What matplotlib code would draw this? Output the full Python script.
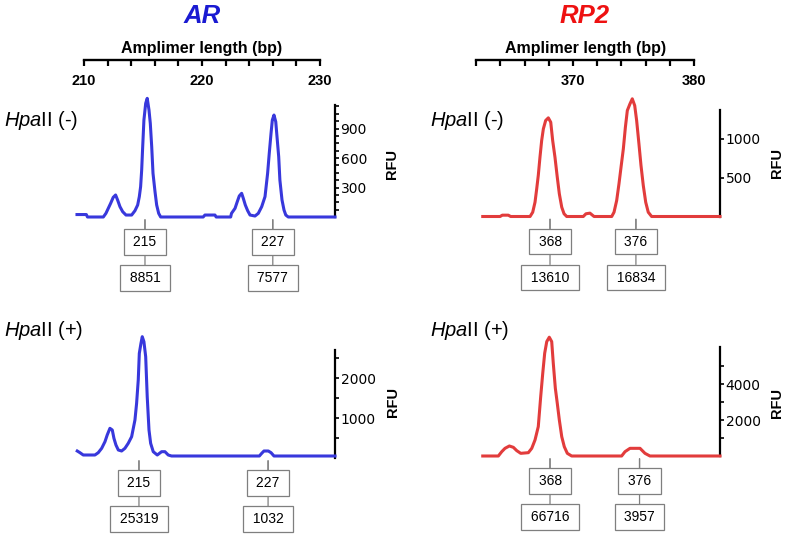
import matplotlib
matplotlib.use("Agg")
import matplotlib.pyplot as plt
from matplotlib.transforms import blended_transform_factory

plt.rcParams['font.family'] = ['Liberation Sans', 'DejaVu Sans']
plt.rcParams['mathtext.fontset'] = 'custom'
plt.rcParams['mathtext.it'] = 'Liberation Sans:italic'
plt.rcParams['mathtext.rm'] = 'Liberation Sans'

# ---- data (x = amplimer length in bp, y = RFU)
ar_neg_bp = [209.41, 210.2, 210.3, 211.64, 211.86, 212.06, 212.26, 212.48, 212.68, 212.85,
             213.05, 213.28, 213.56, 214.04, 214.32, 214.55, 214.69, 214.8, 214.89, 214.97,
             215.08, 215.23, 215.36, 215.51, 215.62, 215.74, 215.85, 216.02, 216.16, 216.33,
             216.5, 220.1, 220.25, 221.1, 221.2, 222.43, 222.5, 222.8, 222.99, 223.16,
             223.36, 223.5, 223.67, 223.87, 224.07, 224.49, 224.77, 225.06, 225.34, 225.56,
             225.7, 225.85, 225.96, 226.1, 226.25, 226.38, 226.5, 226.6, 226.78, 226.95,
             227.1, 227.31, 231.27]
ar_neg_rfu = [25, 25, 0, 0, 37, 88, 139, 200, 224, 173,
              105, 54, 20, 20, 64, 122, 207, 308, 478, 699,
              986, 1156, 1207, 1088, 953, 715, 444, 257, 122, 37,
              0, 0, 20, 20, 0, 0, 37, 88, 156, 214,
              241, 190, 122, 64, 20, 10, 37, 105, 207, 444,
              648, 851, 986, 1037, 969, 783, 613, 376, 173, 71,
              20, 0, 0]

ar_pos_bp = [209.43, 209.66, 209.94, 210.93, 211.21, 211.5, 211.78, 211.97, 212.2, 212.4,
             212.54, 212.71, 212.91, 213.19, 213.47, 213.75, 214.04, 214.32, 214.46, 214.6,
             214.69, 214.83, 214.94, 215.08, 215.23, 215.36, 215.51, 215.65, 215.87, 216.21,
             216.58, 216.86, 217.14, 217.42, 224.86, 225.06, 225.25, 225.62, 225.85, 226.1,
             231.27]
ar_pos_rfu = [175, 133, 75, 75, 133, 242, 408, 575, 742, 700,
              492, 325, 200, 175, 242, 367, 533, 950, 1367, 1950,
              2617, 2867, 3033, 2908, 2533, 1533, 700, 367, 158, 75,
              158, 158, 75, 50, 50, 117, 175, 175, 133, 50,
              50]

rp2_neg_bp = [362.54, 363.97, 364.16, 364.65, 364.85, 366.45, 366.67, 366.86, 367.0, 367.13,
              367.27, 367.41, 367.55, 367.74, 367.96, 368.16, 368.32, 368.51, 368.7, 368.87,
              369.07, 369.26, 369.48, 370.85, 371.07, 371.4, 371.74, 373.2, 373.39, 373.61,
              373.8, 373.97, 374.16, 374.33, 374.49, 374.71, 374.9, 375.1, 375.26, 375.45,
              375.62, 375.81, 376.01, 376.22, 376.5, 382.15]
rp2_neg_rfu = [0, 0, 17, 17, 0, 0, 55, 183, 355, 526,
               760, 974, 1124, 1231, 1265, 1209, 974, 760, 504, 291,
               119, 35, 0, 0, 35, 43, 0, 0, 55, 205,
               419, 632, 867, 1145, 1359, 1445, 1509, 1423, 1231, 932,
               654, 397, 183, 55, 0, 0]

rp2_pos_bp = [362.54, 363.83, 364.11, 364.38, 364.74, 365.07, 365.35, 365.68, 366.31, 366.59,
              366.86, 367.13, 367.33, 367.5, 367.66, 367.83, 368.04, 368.24, 368.37, 368.54,
              368.7, 368.87, 369.07, 369.28, 369.53, 369.89, 374.02, 374.3, 374.71, 375.54,
              375.95, 376.36, 382.15]
rp2_pos_rfu = [0, 0, 241, 426, 556, 482, 297, 148, 185, 426,
               889, 1630, 3297, 4600, 5712, 6355, 6600, 6355, 5155, 3764,
               2930, 2002, 1073, 517, 148, 0, 0, 241, 426, 426,
               148, 0, 0]

# peak calls: where the label hangs, size label, peak area
ar_neg_peak_x = [215.17, 226.0]
ar_pos_peak_x = [214.66, 225.6]
ar_sizes = ['215', '227']
ar_neg_areas = ['8851', '7577']
ar_pos_areas = ['25319', '1032']

rp2_neg_peak_x = [368.1, 375.2]
rp2_pos_peak_x = [368.1, 375.5]
rp2_sizes = ['368', '376']
rp2_neg_areas = ['13610', '16834']
rp2_pos_areas = ['66716', '3957']

# ruler (top axis) ticks
ar_ruler_ticks = [210, 212, 214, 216, 218, 220, 222, 224, 226, 228, 230]
ar_ruler_labels = ['210', '', '', '', '', '220', '', '', '', '', '230']
rp2_ruler_ticks = [362, 364, 366, 368, 370, 372, 374, 376, 378, 380]
rp2_ruler_labels = ['', '', '', '', '370', '', '', '', '', '380']

# RFU axis ticks
ar_neg_major = [300, 600, 900]
ar_neg_minor = [75, 150, 225, 375, 450, 525, 675, 750, 825, 975, 1050, 1125]
ar_pos_major = [1000, 2000]
ar_pos_minor = [500, 1500, 2500]
rp2_neg_major = [500, 1000]
rp2_neg_minor = []
rp2_pos_major = [2000, 4000]
rp2_pos_minor = [1000, 3000, 5000]

blue_trace = '#3838dc'
red_trace = '#e23c3c'
blue_title = '#1a1ad2'
red_title = '#ee1111'

W, H = 786, 536
fig = plt.figure(figsize=(W / 100, H / 100), dpi=100)


def add_px_axes(left, right, top, bottom):
    return fig.add_axes([left / W, 1 - bottom / H, (right - left) / W, (bottom - top) / H])


def trace_panel(left, right, top, bottom, xlim, ylim, spine_top, bp, rfu, color,
                major, minor, peak_x, sizes, areas):
    ax = add_px_axes(left, right, top, bottom)
    ax.plot(bp, rfu, color=color, lw=2.2, clip_on=False, zorder=5)
    ax.set_xlim(*xlim)
    ax.set_ylim(*ylim)
    for s in ['left', 'top', 'bottom']:
        ax.spines[s].set_visible(False)
    ax.spines['right'].set_bounds(0, spine_top)
    ax.spines['right'].set_linewidth(1.6)
    ax.set_xticks([])
    ax.yaxis.tick_right()
    ax.set_yticks(major)
    ax.set_yticks(minor, minor=True)
    ax.tick_params(axis='y', which='both', direction='out', length=3, width=1.2, pad=1,
                   labelsize=10, labelfontfamily='DejaVu Sans')
    ax.patch.set_visible(False)
    for x, s, a in zip(peak_x, sizes, areas):
        box = dict(boxstyle='square,pad=0.4', fc='white', ec='#7f7f7f', lw=0.9)
        ax.annotate(' ' + a + ' ', xy=(x, 0), xytext=(0, -61), textcoords='offset pixels',
                    ha='center', va='center', fontsize=10, bbox=box, annotation_clip=False,
                    arrowprops=dict(arrowstyle='-', color='#7f7f7f', lw=0.9,
                                    shrinkA=0, shrinkB=2), zorder=3)
        ax.annotate(' ' + s + ' ', xy=(x, 0), xytext=(0, -25), textcoords='offset pixels',
                    ha='center', va='center', fontsize=10, bbox=box, annotation_clip=False,
                    arrowprops=dict(arrowstyle='-', color='#7f7f7f', lw=0.9,
                                    shrinkA=0, shrinkB=2), zorder=4)
    return ax


def ruler(left, right, xlim, ticks, labels, title, title_color):
    ax = add_px_axes(left, right, 55, 60)
    ax.set_xlim(*xlim)
    ax.set_yticks([])
    for s in ['left', 'top', 'right']:
        ax.spines[s].set_visible(False)
    ax.spines['bottom'].set_bounds(ticks[0], ticks[-1])
    ax.spines['bottom'].set_linewidth(1.7)
    ax.set_xticks(ticks)
    ax.set_xticklabels(labels, fontweight='bold')
    ax.tick_params(axis='x', direction='out', length=4, width=1.6, pad=6, labelsize=10.5)
    ax.patch.set_visible(False)
    mid = (ticks[0] + ticks[-1]) / 2
    tr = blended_transform_factory(ax.transData, fig.transFigure)
    ax.text(mid, 1 - 48 / H, 'Amplimer length (bp)', transform=tr, ha='center', va='center',
            fontsize=11.5, fontweight='bold')
    ax.text(mid, 1 - 16 / H, title, transform=tr, ha='center', va='center',
            fontsize=18.5, fontweight='bold', style='italic', color=title_color)


# AR column
ruler(75.7, 335, (209.3, 231.27), ar_ruler_ticks, ar_ruler_labels, 'AR', blue_title)
trace_panel(75.7, 335, 95, 217, (209.3, 231.27), (0, 1241), 1140, ar_neg_bp, ar_neg_rfu,
            blue_trace, ar_neg_major, ar_neg_minor, ar_neg_peak_x, ar_sizes, ar_neg_areas)
trace_panel(75.7, 335, 330, 458, (209.3, 231.27), (0, 3200), 2700, ar_pos_bp, ar_pos_rfu,
            blue_trace, ar_pos_major, ar_pos_minor, ar_pos_peak_x, ar_sizes, ar_pos_areas)

# RP2 column
ruler(475, 720, (361.9, 382.15), rp2_ruler_ticks, rp2_ruler_labels, 'RP2', red_title)
trace_panel(475, 720, 95, 216.5, (361.9, 382.15), (0, 1558), 1360, rp2_neg_bp, rp2_neg_rfu,
            red_trace, rp2_neg_major, rp2_neg_minor, rp2_neg_peak_x, rp2_sizes, rp2_neg_areas)
trace_panel(475, 720, 330, 456, (361.9, 382.15), (0, 7000), 6050, rp2_pos_bp, rp2_pos_rfu,
            red_trace, rp2_pos_major, rp2_pos_minor, rp2_pos_peak_x, rp2_sizes, rp2_pos_areas)

# row labels and RFU axis titles
for xl, yl, lab in [(4, 121, '(-)'), (430, 121, '(-)'), (4, 330, '(+)'), (430, 331, '(+)')]:
    fig.text(xl / W, 1 - yl / H, r'$\mathit{Hpa}$II ' + lab, ha='left', va='center', fontsize=14.5)
for xr, yr in [(392, 164), (777, 163), (393, 402), (777, 403)]:
    fig.text(xr / W, 1 - yr / H, 'RFU', rotation=90, ha='center', va='center',
             fontsize=10.5, fontweight='bold')

fig.savefig('out.png', dpi=100)
